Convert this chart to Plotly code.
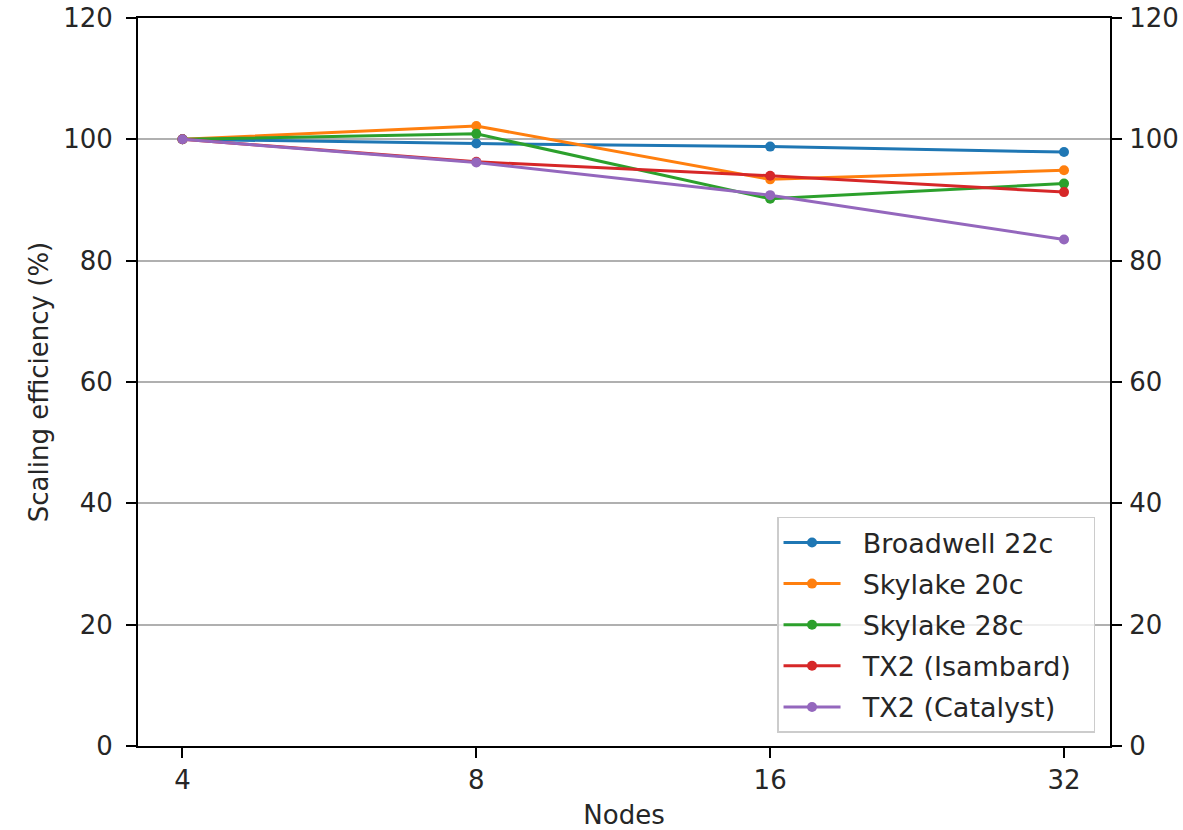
import math
import plotly.graph_objects as go

nodes = [4, 8, 16, 32]
broadwell_22c = [100.0, 99.3, 98.8, 97.9]
skylake_20c = [100.0, 102.2, 93.4, 94.9]
skylake_28c = [100.0, 100.9, 90.2, 92.7]
tx2_isambard = [100.0, 96.3, 94.0, 91.3]
tx2_catalyst = [100.0, 96.2, 90.8, 83.5]

series = [
    ("Broadwell 22c", broadwell_22c, "#1f77b4"),
    ("Skylake 20c", skylake_20c, "#ff7f0e"),
    ("Skylake 28c", skylake_28c, "#2ca02c"),
    ("TX2 (Isambard)", tx2_isambard, "#d62728"),
    ("TX2 (Catalyst)", tx2_catalyst, "#9467bd"),
]

FONT = "DejaVu Sans"
TICKFONT = 26
NBSP = "\u00a0"
fig = go.Figure()
for i, (name, vals, col) in enumerate(series):
    fig.add_trace(go.Scatter(
        x=nodes, y=vals, name=NBSP * 2 + name + NBSP * 2, mode="lines+markers",
        line=dict(color=col, width=3),
        marker=dict(color=col, size=10),
        legendgroup=f"g{i}",
    ))
# invisible trace for the right axis
fig.add_trace(go.Scatter(x=nodes, y=broadwell_22c, yaxis="y2", mode="lines",
                         line=dict(width=0), opacity=0, showlegend=False,
                         hoverinfo="skip"))

l2 = math.log10(2)
x0 = math.log10(4) - 0.1514 * l2
x1 = math.log10(32) + 0.1565 * l2

fig.update_layout(
    width=1183, height=830,
    margin=dict(l=137.5, r=73, t=18, b=84, autoexpand=False),
    paper_bgcolor="white", plot_bgcolor="white",
    font=dict(family=FONT, size=TICKFONT, color="#262626"),
    showlegend=True,
    legend=dict(
        x=0.9846, y=0.0179, xanchor="right", yanchor="bottom",
        bgcolor="rgba(255,255,255,0.8)", bordercolor="#cccccc", borderwidth=1.5,
        font=dict(family=FONT, size=27, color="#262626"),
        tracegroupgap=3, itemwidth=57,
    ),
    xaxis=dict(
        type="log", range=[x0, x1],
        tickvals=nodes, ticktext=[str(n) for n in nodes],
        ticks="outside", ticklen=10, tickwidth=1.5, tickcolor="black",
        showline=True, linecolor="black", linewidth=2, mirror=True,
        showgrid=False, zeroline=False,
        title=dict(text="Nodes", standoff=14, font=dict(size=TICKFONT)),
        tickfont=dict(size=TICKFONT), ticklabelstandoff=0,
    ),
    yaxis=dict(
        range=[0, 120], tickvals=[0, 20, 40, 60, 80, 100, 120],
        ticks="outside", ticklen=10, tickwidth=1.5, tickcolor="black",
        showline=True, linecolor="black", linewidth=2,
        showgrid=True, gridcolor="#b0b0b0", gridwidth=1.6, zeroline=False,
        title=dict(text="Scaling efficiency (%)", standoff=7, font=dict(size=TICKFONT)),
        tickfont=dict(size=TICKFONT), ticklabelstandoff=8,
    ),
    yaxis2=dict(
        range=[0, 120], tickvals=[0, 20, 40, 60, 80, 100, 120],
        overlaying="y", side="right",
        ticks="outside", ticklen=10, tickwidth=1.5, tickcolor="black",
        showline=True, linecolor="black", linewidth=2,
        showgrid=False, zeroline=False,
        tickfont=dict(size=TICKFONT), ticklabelstandoff=2,
    ),
)

fig.write_html(
    "out.html",
    config={"displayModeBar": False},
    post_script="document.body.style.margin='0';document.body.style.overflow='hidden';",
)
